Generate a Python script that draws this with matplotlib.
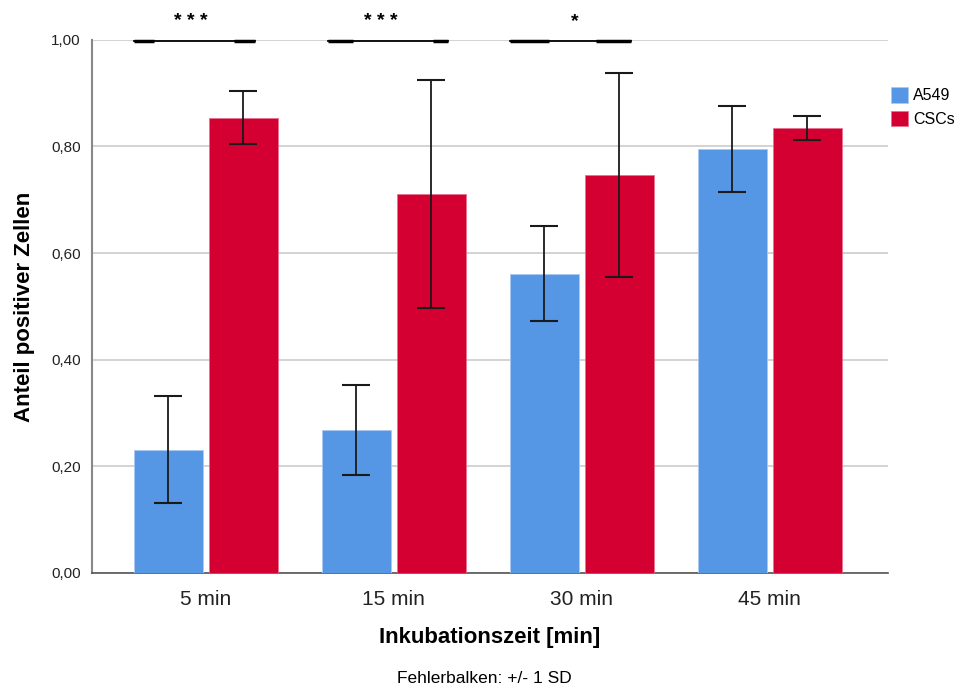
import matplotlib.pyplot as plt
import numpy as np

plt.rcParams['font.family'] = ['Liberation Sans', 'DejaVu Sans']

# Daten
kategorien = ['5 min', '15 min', '30 min', '45 min']
a549 = [0.231, 0.268, 0.561, 0.795]
a549_sd = [0.100, 0.084, 0.089, 0.081]
cscs = [0.854, 0.711, 0.747, 0.835]
cscs_sd = [0.050, 0.214, 0.191, 0.022]

# Signifikanz-Markierungen
sterne = ['* * *', '* * *', '*']
stern_x = [-0.08, -0.07, -0.04]
sig_start = [-0.383, -0.351, -0.383]
sig_dick1 = [-0.277, -0.218, -0.176]
sig_dick2 = [0.149, 0.207, 0.074]
sig_ende = [0.261, 0.287, 0.261]

blau = '#5596e5'
rot = '#d50032'

fig = plt.figure(figsize=(9.63, 6.87), dpi=100)
ax = fig.add_axes([0.0955, 0.166, 0.8265, 0.776])

x = np.arange(len(kategorien))
breite = 0.365
ax.bar(x - 0.2, a549, breite, color=blau, edgecolor='#a9c9f0', linewidth=0.6,
       label='A549', zorder=3)
ax.bar(x + 0.2, cscs, breite, color=rot, edgecolor='#e8718f', linewidth=0.6,
       label='CSCs', zorder=3)
ax.errorbar(x - 0.2, a549, yerr=a549_sd, fmt='none', ecolor='#1a1a1a',
            elinewidth=1.3, capsize=10, capthick=1.5, zorder=4)
ax.errorbar(x + 0.2, cscs, yerr=cscs_sd, fmt='none', ecolor='#1a1a1a',
            elinewidth=1.3, capsize=10, capthick=1.5, zorder=4)

# Signifikanz
for i in range(len(sterne)):
    ax.plot([x[i] + sig_start[i], x[i] + sig_ende[i]], [0.997, 0.997],
            color='black', lw=1.3, zorder=5, clip_on=False)
    ax.plot([x[i] + sig_start[i], x[i] + sig_dick1[i]], [0.997, 0.997],
            color='black', lw=2.5, zorder=5, clip_on=False, solid_capstyle='butt')
    ax.plot([x[i] + sig_dick2[i], x[i] + sig_ende[i]], [0.997, 0.997],
            color='black', lw=2.5, zorder=5, clip_on=False, solid_capstyle='butt')
    ax.text(x[i] + stern_x[i], 1.034, sterne[i], ha='center', va='center',
            fontsize=14, fontweight='bold', clip_on=False)

ax.set_xlim(-0.606, 3.628)
ax.set_ylim(0, 1.0)
ax.set_yticks([0, 0.2, 0.4, 0.6, 0.8, 1.0])
ax.set_yticklabels(['0,00', '0,20', '0,40', '0,60', '0,80', '1,00'], fontsize=11)
ax.set_xticks(x)
ax.set_xticklabels(kategorien, fontsize=15)
ax.tick_params(axis='both', length=0, colors='#222222')
ax.tick_params(axis='x', pad=12)
ax.tick_params(axis='y', pad=8)

ax.yaxis.grid(True, color='#cccccc', lw=1.2, zorder=0)
ax.set_axisbelow(True)
for s in ['top', 'right']:
    ax.spines[s].set_visible(False)
ax.spines['left'].set_color('#888888')
ax.spines['left'].set_linewidth(1.5)
ax.spines['bottom'].set_color('#555555')
ax.spines['bottom'].set_linewidth(1.2)

ax.set_ylabel('Anteil positiver Zellen', fontsize=16, fontweight='bold', va='center')
ax.yaxis.set_label_coords(-0.085, 0.5)
ax.set_xlabel('Inkubationszeit [min]', fontsize=16, fontweight='bold', va='center')
ax.xaxis.set_label_coords(0.5, -0.122)
fig.text(0.503, 0.013, 'Fehlerbalken: +/- 1 SD', ha='center', va='center', fontsize=12.5)

ax.legend(loc='upper left', bbox_to_anchor=(0.996, 0.923), frameon=False,
          fontsize=11.5, handlelength=1.05, handleheight=1.1, handletextpad=0.35,
          labelspacing=0.45, borderaxespad=0)

fig.savefig('out.png', dpi=100)
